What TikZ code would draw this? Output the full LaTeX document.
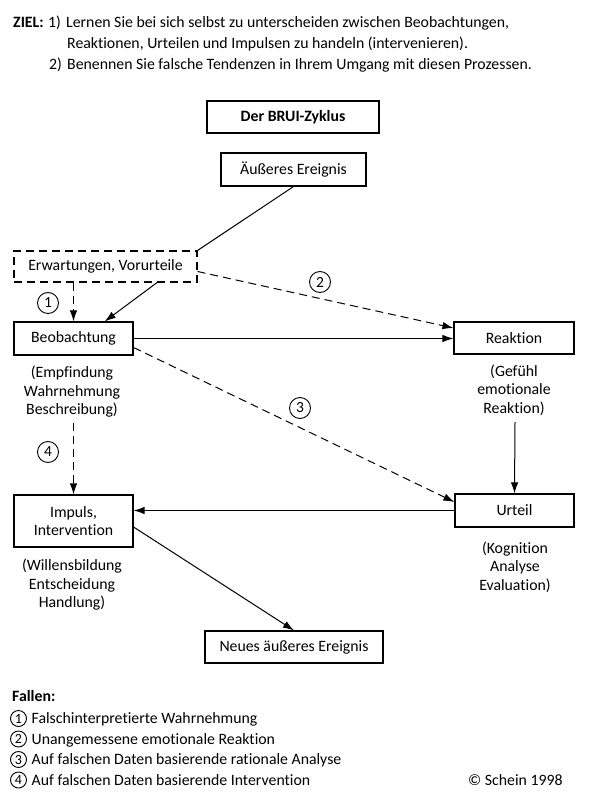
\documentclass[tikz,border=0pt]{standalone}
\usepackage{fontspec}
\setmainfont[Ligatures=NoCommon]{Carlito}
\usetikzlibrary{arrows.meta,calc}
\tikzset{
  txt/.style={font=\fontsize{15.8}{18.5}\selectfont, inner sep=0pt},
  btxt/.style={font=\fontsize{15.8}{18.5}\selectfont\bfseries, inner sep=0pt},
  box/.style={txt, draw, line width=1.1pt, inner sep=0pt, align=center},
  dbox/.style={box, dash pattern=on 8pt off 5pt},
  arr/.style={line width=1pt, -{Latex[length=11pt,width=7.5pt]}},
  plain/.style={line width=1pt},
  dsh/.style={dash pattern=on 8pt off 5pt},
  num/.style={circle, draw, line width=0.9pt, minimum size=21pt, inner sep=0pt, font=\fontsize{15.5}{17}\selectfont},
  lnum/.style={circle, draw, line width=0.9pt, minimum size=16pt, inner sep=0pt, font=\fontsize{14}{15}\selectfont},
  sub/.style={txt, align=center},
}
\begin{document}
\begin{tikzpicture}[x=1pt,y=-1pt]
\useasboundingbox[fill=white] (0,0) rectangle (594,794);

% goal text
\node[btxt, anchor=base west] (ziel) at (13,28) {ZIEL:};
\node[txt, anchor=base west] (g1n) at (48,28) {1)};
\node[txt, anchor=base west] (g1) at (66,28) {Lernen Sie bei sich selbst zu unterscheiden zwischen Beobachtungen,};
\node[txt, anchor=base west] (g2) at (67,48.5) {Reaktionen, Urteilen und Impulsen zu handeln (intervenieren).};
\node[txt, anchor=base west] (g3n) at (49,70) {2)};
\node[txt, anchor=base west] (g3) at (67,70) {Benennen Sie falsche Tendenzen in Ihrem Umgang mit diesen Prozessen.};

% boxes
\node[box, btxt, line width=1.4pt, minimum width=172pt, minimum height=32pt] (title) at (293,117) {Der BRUI-Zyklus};
\node[box, minimum width=145pt, minimum height=33pt] (ext) at (293.5,169.5) {Äußeres Ereignis};
\node[dbox, minimum width=183pt, minimum height=31pt] (erw) at (105.5,266.5) {Erwartungen, Vorurteile};
\node[box, minimum width=119pt, minimum height=33pt] (beo) at (73.5,338.5) {Beobachtung};
\node[box, minimum width=120pt, minimum height=32pt] (rea) at (514,338) {Reaktion};
\node[box, minimum width=119pt, minimum height=52pt] (imp) at (73.5,521) {Impuls,\\Intervention};
\node[box, minimum width=119pt, minimum height=33pt] (urt) at (514.5,510.5) {Urteil};
\node[box, minimum width=178pt, minimum height=32pt] (neu) at (294,647) {Neues äußeres Ereignis};

% sub texts
\node[sub] (beosub) at (72,392) {(Empfindung\\Wahrnehmung\\Beschreibung)};
\node[sub] (reasub) at (514,390) {(Gefühl\\emotionale\\Reaktion)};
\node[sub] (impsub) at (72,585) {(Willensbildung\\Entscheidung\\Handlung)};
\node[sub] (urtsub) at (515,567) {(Kognition\\Analyse\\Evaluation)};

% circled numbers
\node[num] (n1) at (48,303) {1};
\node[num] (n2) at (320,282) {2};
\node[num] (n3) at (300,408) {3};
\node[num] (n4) at (48,452) {4};

% helper coordinates
\coordinate (c4) at (73.5,423);
\coordinate (cr) at (515,422);

% connectors
\draw[plain] (ext.south) -- (erw.north east);
\draw[arr, dsh] (erw.south -| beo.north) -- (beo.north);
\draw[arr] ($(erw.south east)!0.22!(erw.south west)$) -- ($(beo.north west)!0.76!(beo.north east)$);
\draw[arr, dsh] ($(erw.east)+(0,5)$) -- ($(rea.west)+(0,-10)$);
\draw[arr] (beo.east) -- (beo.east -| rea.west);
\draw[arr, dsh] ($(beo.east)+(0,9)$) -- ($(urt.west)+(0,-8.5)$);
\draw[arr, dsh] (c4) -- (imp.north);
\draw[arr] (cr) -- (urt.north);
\draw[arr] (urt.west) -- (urt.west -| imp.east);
\draw[arr] ($(imp.east)+(0,6)$) -- (neu.north);

% legend
\node[btxt, anchor=base west] (fallen) at (12,701) {Fallen:};
\node[lnum] (l1) at (18.5,718.5) {1};
\node[lnum] (l2) at (18.5,739) {2};
\node[lnum] (l3) at (18.5,759.5) {3};
\node[lnum] (l4) at (18.5,780) {4};
\node[txt, anchor=base west] (t1) at (31.5,723.5) {Falschinterpretierte Wahrnehmung};
\node[txt, anchor=base west] (t2) at (31.5,744) {Unangemessene emotionale Reaktion};
\node[txt, anchor=base west] (t3) at (31.5,764.5) {Auf falschen Daten basierende rationale Analyse};
\node[txt, anchor=base west] (t4) at (31.5,785) {Auf falschen Daten basierende Intervention};
\node[txt, anchor=base west] (copy) at (468,785) {© Schein 1998};
\end{tikzpicture}
\end{document}
